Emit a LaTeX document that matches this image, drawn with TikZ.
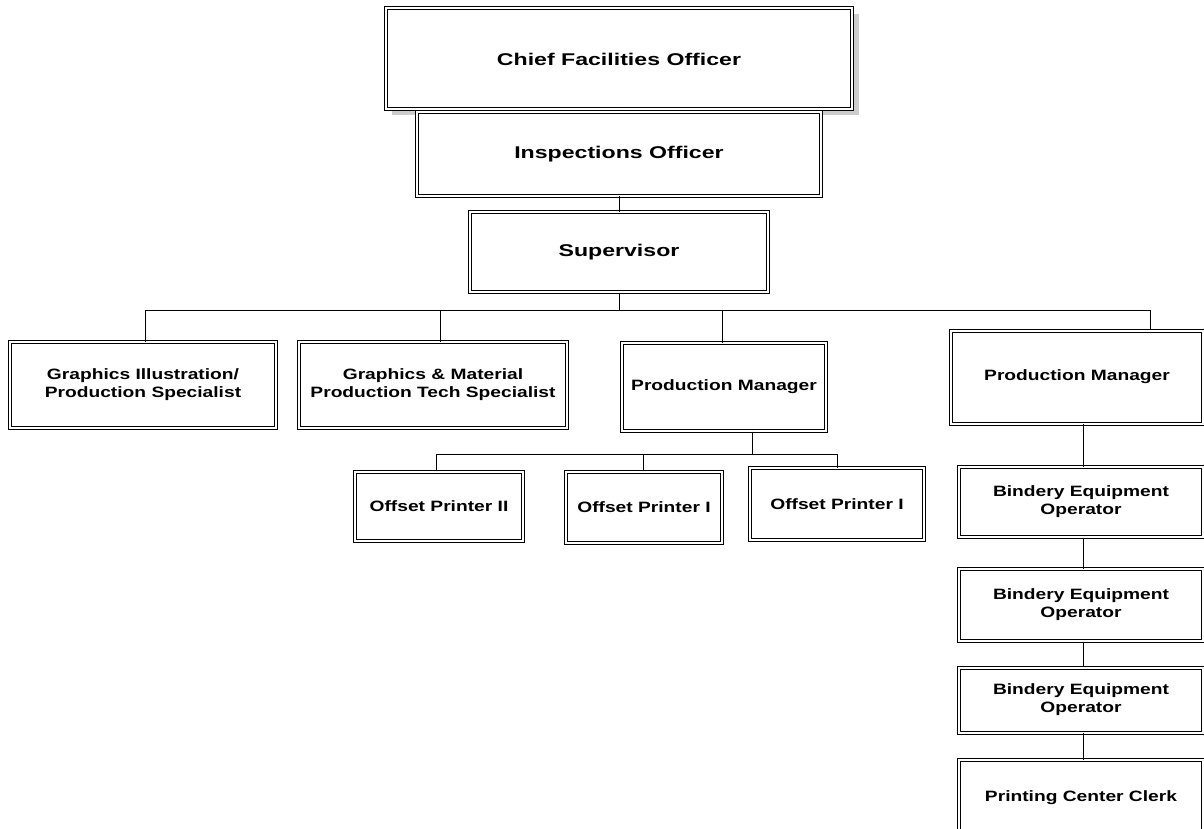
\documentclass[tikz,border=0pt]{standalone}
\usepackage{fontspec}
\setmainfont{Liberation Sans}
\newfontfamily\bigwide[FakeStretch=1.36]{Liberation Sans}
\newfontfamily\smallwide[FakeStretch=1.28]{Liberation Sans}
\begin{document}
\begin{tikzpicture}[x=1pt,y=-1pt,
  box/.style={draw, line width=1pt, double=white, double distance=2pt, fill=white, align=center, inner sep=0pt, font=\smallwide\bfseries\fontsize{15}{18}\selectfont},
  bigbox/.style={box, font=\bigwide\bfseries\fontsize{17}{20}\selectfont},
  conn/.style={line width=0.9pt}]
\useasboundingbox (0,0) rectangle (1204,829);
\fill[black!20] (392,14) rectangle (859,115);
\node[bigbox, minimum width=466pt, minimum height=101pt] (cfo) at (619,59) {Chief Facilities Officer};
\node[bigbox, minimum width=404pt, minimum height=84pt] (ins) at (619,154) {Inspections Officer};
\node[bigbox, minimum width=298pt, minimum height=80pt] (sup) at (619,252) {Supervisor};
\node[box, minimum width=266pt, minimum height=86pt] (gip) at (143,385) {Graphics Illustration/\\Production Specialist};
\node[box, minimum width=268pt, minimum height=86pt] (gmp) at (433,385) {Graphics \& Material\\Production Tech Specialist};
\node[box, minimum width=204pt, minimum height=88pt] (pm1) at (724,387) {Production Manager};
\node[box, minimum width=252pt, minimum height=93pt] (pm2) at (1077,377) {Production Manager};
\node[box, minimum width=168pt, minimum height=69pt] (op2) at (439,506) {Offset Printer II};
\node[box, minimum width=156pt, minimum height=71pt] (op1a) at (644,507) {Offset Printer I};
\node[box, minimum width=174pt, minimum height=72pt] (op1b) at (837,504) {Offset Printer I};
\node[box, minimum width=244pt, minimum height=70pt] (b1) at (1081,502) {Bindery Equipment\\Operator};
\node[box, minimum width=244pt, minimum height=72pt] (b2) at (1081,605) {Bindery Equipment\\Operator};
\node[box, minimum width=244pt, minimum height=65pt] (b3) at (1081,700) {Bindery Equipment\\Operator};
\node[box, minimum width=244pt, minimum height=76pt] (clk) at (1081,798) {Printing Center Clerk};
\draw[conn] (cfo.south) -- (ins.north);
\draw[conn] (ins.south) -- (sup.north);
\draw[conn] (sup.south) -- ++(0,18) coordinate (bus);
\draw[conn] ([xshift=2pt]gip.north) |- (bus) -| ([xshift=73pt]pm2.north);
\draw[conn] ([xshift=7pt]gmp.north) -- ([xshift=7pt]gmp.north |- bus);
\draw[conn] ([xshift=-2pt]pm1.north) -- ([xshift=-2pt]pm1.north |- bus);
\draw[conn] ([xshift=28pt]pm1.south) -- ++(0,23) coordinate (bus2);
\draw[conn] ([xshift=-3pt]op2.north) |- (bus2) -| (op1b.north);
\draw[conn] ([xshift=-1pt]op1a.north) -- ([xshift=-1pt]op1a.north |- bus2);
\draw[conn] ([xshift=6pt]pm2.south) -- ([xshift=2pt]b1.north);
\draw[conn] ([xshift=2pt]b1.south) -- ([xshift=2pt]b2.north);
\draw[conn] ([xshift=2pt]b2.south) -- ([xshift=2pt]b3.north);
\draw[conn] ([xshift=2pt]b3.south) -- ([xshift=2pt]clk.north);
\end{tikzpicture}
\end{document}
